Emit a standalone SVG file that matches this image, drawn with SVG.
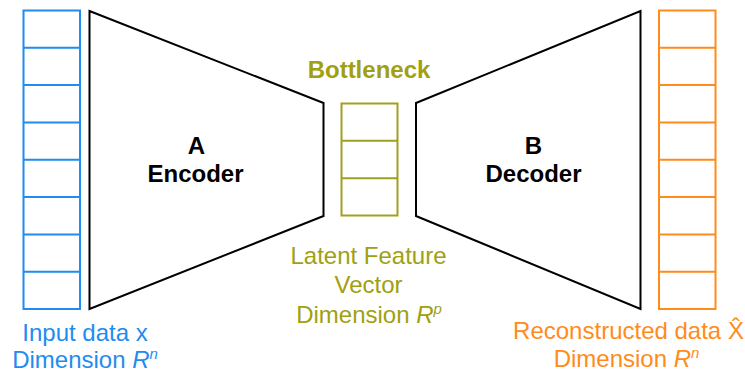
<svg xmlns="http://www.w3.org/2000/svg" width="745" height="374" viewBox="0 0 745 374">
  <style>
    .txt { font-family: "Liberation Sans", Arial, sans-serif; font-size: 24px; text-anchor: middle; }
    .bold { font-weight: bold; font-size: 24px; }
    .blue { fill: #1e8cf0; }
    .olive { fill: #a0a010; }
    .orange { fill: #ff8c1a; }
    .dark { fill: #000000; }
    .cell { fill: #ffffff; stroke-width: 2; }
    .cellBlue { stroke: #1e8cf0; }
    .cellOlive { stroke: #a0a020; }
    .cellOrange { stroke: #ff8c1a; }
    .funnel { fill: #ffffff; stroke: #000000; stroke-width: 2; stroke-linejoin: miter; }
    .sup { font-size: 15px; }
  </style>

  <!-- Input vector: 8 cells -->
  <g id="input">
    <rect class="cell cellBlue" x="23.5" y="10.5" width="56.5" height="298.5"/>
    <path d="M23.5 47.8H80M23.5 85.1H80M23.5 122.4H80M23.5 159.8H80M23.5 197.1H80M23.5 234.4H80M23.5 271.7H80" stroke="#1e8cf0" stroke-width="2" fill="none"/>
    <text class="txt blue" x="85" y="341">Input data x</text>
    <text class="txt blue" x="85" y="367.5">Dimension <tspan font-style="italic">R</tspan><tspan class="sup" font-style="italic" dy="-9">n</tspan></text>
  </g>

  <!-- Encoder funnel -->
  <g id="encoder">
    <polygon class="funnel" points="89.5,11 323.5,103 323.5,216 89.5,309"/>
    <text class="txt bold dark" x="196.5" y="154">A</text>
    <text class="txt bold dark" x="195.5" y="182">Encoder</text>
  </g>

  <!-- Latent bottleneck vector: 3 cells -->
  <g id="bottleneck">
    <text class="txt bold olive" x="369" y="78">Bottleneck</text>
    <rect class="cell cellOlive" x="341.5" y="103.5" width="56" height="112"/>
    <path d="M341.5 140.8H397.5M341.5 178.2H397.5" stroke="#a0a020" stroke-width="2" fill="none"/>
    <text class="txt olive" x="368.5" y="264">Latent Feature</text>
    <text class="txt olive" x="368.5" y="293">Vector</text>
    <text class="txt olive" x="369" y="322.5">Dimension <tspan font-style="italic">R</tspan><tspan class="sup" font-style="italic" dy="-9">p</tspan></text>
  </g>

  <!-- Decoder funnel -->
  <g id="decoder">
    <polygon class="funnel" points="416,103 640.5,11 640.5,309 416,216"/>
    <text class="txt bold dark" x="533.5" y="154">B</text>
    <text class="txt bold dark" x="533.5" y="182">Decoder</text>
  </g>

  <!-- Reconstructed vector: 8 cells -->
  <g id="output">
    <rect class="cell cellOrange" x="659" y="10.5" width="56.5" height="298.5"/>
    <path d="M659 47.8H715.5M659 85.1H715.5M659 122.4H715.5M659 159.8H715.5M659 197.1H715.5M659 234.4H715.5M659 271.7H715.5" stroke="#ff8c1a" stroke-width="2" fill="none"/>
    <text class="txt orange" x="628.5" y="339">Reconstructed data X̂</text>
    <text class="txt orange" x="626.5" y="366.5">Dimension <tspan font-style="italic">R</tspan><tspan class="sup" font-style="italic" dy="-9">n</tspan></text>
  </g>

  <g id="connectors"></g>
</svg>
